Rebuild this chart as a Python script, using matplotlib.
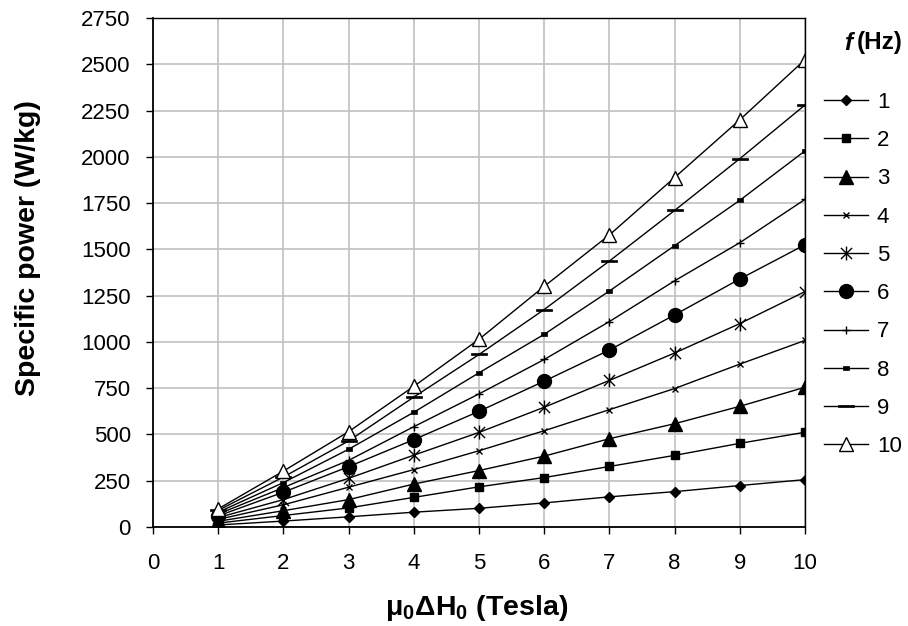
import matplotlib
matplotlib.use("Agg")
import matplotlib.pyplot as plt
from matplotlib.path import Path

plt.rcParams['font.family'] = ['Liberation Sans', 'DejaVu Sans']
plt.rcParams['mathtext.fontset'] = 'custom'
plt.rcParams['mathtext.rm'] = 'Liberation Sans'
plt.rcParams['mathtext.bf'] = 'Liberation Sans:bold'
plt.rcParams['mathtext.it'] = 'Liberation Sans:italic'

field = [1, 2, 3, 4, 5, 6, 7, 8, 9, 10]
freq_labels = ['1', '2', '3', '4', '5', '6', '7', '8', '9', '10']
f1 = [11, 32, 55, 80, 101, 130, 163, 191, 224, 256]
f2 = [21, 62, 103, 160, 217, 267, 327, 387, 452, 512]
f3 = [31, 88, 148, 232, 305, 383, 477, 558, 652, 755]
f4 = [41, 120, 215, 310, 412, 520, 634, 748, 880, 1008]
f5 = [51, 148, 263, 388, 511, 647, 792, 940, 1099, 1272]
f6 = [60, 188, 326, 472, 625, 788, 956, 1146, 1340, 1525]
f7 = [70, 213, 360, 542, 719, 905, 1110, 1330, 1536, 1770]
f8 = [80, 240, 420, 620, 833, 1041, 1275, 1520, 1765, 2032]
f9 = [90, 270, 465, 702, 932, 1175, 1437, 1710, 1990, 2280]
f10 = [98, 302, 515, 760, 1014, 1300, 1578, 1888, 2200, 2525]
series = [f1, f2, f3, f4, f5, f6, f7, f8, f9, f10]

star = Path([(0, -1), (0, 1), (-0.8, -0.8), (0.8, 0.8), (-0.8, 0.8), (0.8, -0.8)],
            [Path.MOVETO, Path.LINETO, Path.MOVETO, Path.LINETO, Path.MOVETO, Path.LINETO])
smalldash = Path([(-1, -0.5), (1, -0.5), (1, 0.5), (-1, 0.5), (-1, -0.5)],
                 [Path.MOVETO, Path.LINETO, Path.LINETO, Path.LINETO, Path.CLOSEPOLY])
longdash = Path([(-1, -0.18), (1, -0.18), (1, 0.18), (-1, 0.18), (-1, -0.18)],
                [Path.MOVETO, Path.LINETO, Path.LINETO, Path.LINETO, Path.CLOSEPOLY])

styles = [
    dict(marker='D', ms=5, mfc='black', mec='black'),
    dict(marker='s', ms=5.5, mfc='black', mec='black'),
    dict(marker='^', ms=10, mfc='black', mec='black'),
    dict(marker='x', ms=5, mfc='black', mec='black', mew=1.0),
    dict(marker=star, ms=10, mfc='none', mec='black', mew=1.0),
    dict(marker='o', ms=10, mfc='black', mec='black'),
    dict(marker='+', ms=5.5, mfc='black', mec='black', mew=1.0),
    dict(marker=smalldash, ms=4.5, mfc='black', mec='black', mew=0.5),
    dict(marker=longdash, ms=11, mfc='black', mec='black', mew=0.5),
    dict(marker='^', ms=10.5, mfc='white', mec='black', mew=1.0),
]

fig = plt.figure(figsize=(9.08, 6.26), dpi=100)
ax = fig.add_axes([153/908, 1-527/626, (805-153)/908, (527-18)/626])

handles = []
for vals, lab, st in zip(series, freq_labels, styles):
    h, = ax.plot(field, vals, color='black', lw=1.0, label=lab, **st)
    handles.append(h)

ax.set_xlim(0, 10)
ax.set_ylim(0, 2750)
ax.set_xticks(range(0, 11))
ax.set_yticks(range(0, 2751, 250))
ax.grid(True, color='#c0c0c0', lw=1.2)
ax.set_axisbelow(True)
for s in ax.spines.values():
    s.set_color('black')
    s.set_linewidth(1.0)
ax.spines['left'].set_linewidth(1.3)
ax.spines['bottom'].set_linewidth(1.3)
ax.tick_params(axis='both', direction='out', length=5, width=1.0, labelsize=16, colors='black')
ax.tick_params(axis='x', pad=14)
ax.tick_params(axis='y', pad=11)

fig.text(28/908, 1-248/626, 'Specific power (W/kg)', fontsize=20.5, fontweight='bold',
         rotation=90, ha='center', va='center')
fig.text(477/908, 1-608/626, r'μ$_\mathbf{0}$ΔH$_\mathbf{0}$ (Tesla)', fontsize=20.5,
         fontweight='bold', ha='center', va='center')

leg = ax.legend(handles=handles, loc='upper left', bbox_to_anchor=(824/908, 1-92/626),
                bbox_transform=fig.transFigure, frameon=False, fontsize=16,
                handlelength=2.0, handletextpad=0.38, labelspacing=0.775, borderaxespad=0,
                borderpad=0)

fig.text(852/908, 1-43/626, 'f', fontsize=17.5, fontweight='bold', fontstyle='italic',
         ha='right', va='center')
fig.text(857/908, 1-43/626, '(Hz)', fontsize=17.5, fontweight='bold', ha='left', va='center')

fig.savefig('out.png', dpi=100)
